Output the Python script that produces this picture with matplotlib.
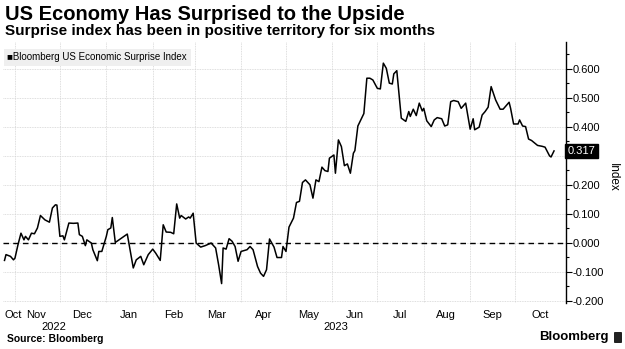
import matplotlib
matplotlib.use("Agg")
import matplotlib.pyplot as plt
import matplotlib.patches as mpatches
import matplotlib.transforms as mtrans
import numpy as np
import pandas as pd

# ---------------- data ----------------
dates = [
    "2022-10-25", "2022-10-26", "2022-10-29", "2022-10-31", "2022-11-01", "2022-11-03",
    "2022-11-05", "2022-11-07", "2022-11-08", "2022-11-10", "2022-11-12", "2022-11-14",
    "2022-11-16", "2022-11-18", "2022-11-21", "2022-11-24", "2022-11-26", "2022-11-28",
    "2022-11-29", "2022-12-01", "2022-12-03", "2022-12-04", "2022-12-07", "2022-12-10",
    "2022-12-13", "2022-12-14", "2022-12-16", "2022-12-18", "2022-12-19", "2022-12-22",
    "2022-12-23", "2022-12-26", "2022-12-27", "2022-12-29", "2023-01-01", "2023-01-02",
    "2023-01-04", "2023-01-05", "2023-01-07", "2023-01-15", "2023-01-19", "2023-01-21",
    "2023-01-24", "2023-01-26", "2023-01-29", "2023-02-01", "2023-02-03", "2023-02-06",
    "2023-02-08", "2023-02-10", "2023-02-13", "2023-02-15", "2023-02-17", "2023-02-19",
    "2023-02-20", "2023-02-23", "2023-02-25", "2023-02-26", "2023-02-28", "2023-03-02",
    "2023-03-05", "2023-03-08", "2023-03-12", "2023-03-15", "2023-03-17", "2023-03-19",
    "2023-03-20", "2023-03-22", "2023-03-24", "2023-03-26", "2023-03-28", "2023-03-30",
    "2023-04-01", "2023-04-05", "2023-04-07", "2023-04-09", "2023-04-12", "2023-04-14",
    "2023-04-16", "2023-04-18", "2023-04-20", "2023-04-23", "2023-04-25", "2023-04-28",
    "2023-04-29", "2023-05-01", "2023-05-03", "2023-05-06", "2023-05-08", "2023-05-10",
    "2023-05-12", "2023-05-14", "2023-05-17", "2023-05-19", "2023-05-21", "2023-05-23",
    "2023-05-25", "2023-05-27", "2023-05-29", "2023-05-30", "2023-06-02", "2023-06-03",
    "2023-06-05", "2023-06-07", "2023-06-09", "2023-06-11", "2023-06-13", "2023-06-15",
    "2023-06-16", "2023-06-18", "2023-06-22", "2023-06-24", "2023-06-26", "2023-06-28",
    "2023-07-01", "2023-07-03", "2023-07-05", "2023-07-07", "2023-07-09", "2023-07-11",
    "2023-07-12", "2023-07-14", "2023-07-16", "2023-07-17", "2023-07-20", "2023-07-22",
    "2023-07-23", "2023-07-25", "2023-07-27", "2023-07-29", "2023-07-31", "2023-08-01",
    "2023-08-03", "2023-08-06", "2023-08-08", "2023-08-10", "2023-08-13", "2023-08-15",
    "2023-08-17", "2023-08-19", "2023-08-21", "2023-08-24", "2023-08-26", "2023-08-29",
    "2023-09-01", "2023-09-03", "2023-09-04", "2023-09-07", "2023-09-09", "2023-09-11",
    "2023-09-13", "2023-09-15", "2023-09-18", "2023-09-21", "2023-09-23", "2023-09-27",
    "2023-09-28", "2023-09-30", "2023-10-03", "2023-10-04", "2023-10-06", "2023-10-08",
    "2023-10-10", "2023-10-12", "2023-10-16", "2023-10-19", "2023-10-21", "2023-10-24",
    "2023-10-25", "2023-10-27",
]
values = [
    -0.061, -0.041, -0.047, -0.059, -0.053, -0.007,
    0.033, 0.010, 0.022, 0.010, 0.033, 0.031,
    0.051, 0.094, 0.079, 0.071, 0.120, 0.131,
    0.130, 0.022, 0.024, 0.010, 0.068, 0.067,
    0.068, 0.028, 0.022, -0.010, 0.010, -0.001,
    -0.024, -0.062, -0.030, -0.030, 0.022, 0.045,
    0.051, 0.087, 0.001, 0.030, -0.087, -0.059,
    -0.047, -0.076, -0.041, -0.022, -0.036, -0.061,
    0.062, 0.037, 0.036, 0.031, 0.134, 0.085,
    0.094, 0.082, 0.089, 0.085, 0.102, -0.001,
    -0.015, -0.010, -0.001, -0.018, -0.076, -0.141,
    -0.018, -0.022, 0.014, 0.005, -0.013, -0.064,
    -0.030, -0.024, -0.013, -0.024, -0.082, -0.105,
    -0.116, -0.093, 0.013, -0.015, -0.051, -0.051,
    -0.013, -0.030, 0.054, 0.085, 0.139, 0.143,
    0.208, 0.217, 0.200, 0.154, 0.217, 0.211,
    0.261, 0.249, 0.246, 0.292, 0.303, 0.240,
    0.355, 0.332, 0.266, 0.272, 0.240, 0.309,
    0.318, 0.403, 0.446, 0.568, 0.568, 0.562,
    0.533, 0.531, 0.620, 0.602, 0.551, 0.548,
    0.583, 0.594, 0.482, 0.430, 0.419, 0.453,
    0.436, 0.461, 0.439, 0.482, 0.455, 0.464,
    0.421, 0.401, 0.424, 0.432, 0.428, 0.403,
    0.407, 0.487, 0.491, 0.487, 0.464, 0.482,
    0.392, 0.428, 0.390, 0.399, 0.441, 0.453,
    0.468, 0.539, 0.493, 0.461, 0.461, 0.485,
    0.464, 0.410, 0.410, 0.424, 0.403, 0.401,
    0.358, 0.353, 0.336, 0.333, 0.330, 0.300,
    0.296, 0.317,
]
series_name = "Bloomberg US Economic Surprise Index"
last_value = 0.317

month_labels = ["Oct", "Nov", "Dec", "Jan", "Feb", "Mar", "Apr", "May", "Jun", "Jul", "Aug", "Sep", "Oct"]
month_label_dates = ["2022-10-31", "2022-11-15", "2022-12-16", "2023-01-16", "2023-02-15",
                     "2023-03-16", "2023-04-16", "2023-05-16", "2023-06-16", "2023-07-16",
                     "2023-08-16", "2023-09-16", "2023-10-18"]
year_labels = ["2022", "2023"]
year_label_dates = ["2022-11-27", "2023-06-03"]
y_ticks = [-0.2, -0.1, 0.0, 0.1, 0.2, 0.3, 0.4, 0.5, 0.6]

title = "US Economy Has Surprised to the Upside"
subtitle = "Surprise index has been in positive territory for six months"
source = "Source: Bloomberg"

# ---------------- figure ----------------
W, H = 625, 349
fig = plt.figure(figsize=(W / 100, H / 100), dpi=100)
FONT = "Liberation Sans"

def fx(px):
    return px / W

def fy(py):
    return 1 - py / H

ax = fig.add_axes([fx(3), fy(303), fx(566) - fx(3), fy(42) - fy(303)])

x = pd.to_datetime(dates)
ax.plot(x, values, color="black", lw=1.1, zorder=3)
ax.axhline(0, color="black", lw=1.0, ls=(0, (4, 3)), zorder=2)

ax.set_xlim(pd.Timestamp("2022-10-24"), pd.Timestamp("2023-11-04"))
ax.set_ylim(-0.208, 0.693)

# grid
month_starts = pd.date_range("2022-11-01", "2023-10-01", freq="MS")
for d in month_starts:
    ax.axvline(d, color="#d4d4d4", lw=0.6, ls=(0, (1, 1)), zorder=1)
for yv in y_ticks:
    ax.axhline(yv, color="#d4d4d4", lw=0.6, ls=(0, (1, 1)), zorder=1)

for s in ["top", "left", "bottom"]:
    ax.spines[s].set_visible(False)
ax.spines["right"].set_color("black")
ax.spines["right"].set_linewidth(1.0)

ax.yaxis.tick_right()
ax.set_yticks(y_ticks)
# the 0.300 label is hidden behind the last-value tag, as in the reference
ax.set_yticklabels(["" if abs(v - 0.3) < 1e-9 else f"{v:.3f}" for v in y_ticks],
                   fontsize=8, family=FONT)
ax.set_yticks(np.arange(-0.15, 0.7, 0.1), minor=True)
ax.tick_params(axis="y", which="major", length=4, width=0.8, pad=1, direction="out")
ax.tick_params(axis="y", which="minor", length=2.5, width=0.8, direction="out")

ax.set_xticks(pd.to_datetime(month_label_dates))
ax.set_xticklabels(month_labels, fontsize=8, family=FONT)
ax.tick_params(axis="x", length=0, pad=5)

trans = mtrans.blended_transform_factory(ax.transData, fig.transFigure)
for lab, d in zip(year_labels, year_label_dates):
    ax.text(pd.Timestamp(d), fy(327), lab, transform=trans, ha="center", va="center",
            fontsize=8, family=FONT)

# y label
fig.text(fx(613), fy(177), "Index", rotation=270, ha="center", va="center",
         fontsize=8.5, family=FONT)

# last value box
ytrans = mtrans.blended_transform_factory(ax.transAxes, ax.transData)
ax.text(1.003, last_value, f"{last_value:.3f}", transform=ytrans, ha="left", va="center",
        fontsize=8, family=FONT, color="white", zorder=5,
        bbox=dict(boxstyle="square,pad=0.2", fc="black", ec="black"))

# legend
fig.patches.append(mpatches.Rectangle((fx(4), fy(66)), fx(191) - fx(4), fy(49) - fy(66),
                                      transform=fig.transFigure, fc="#efefef", ec="none", zorder=0))
fig.text(fx(7), fy(57.5), "\u25a0" + series_name, ha="left", va="center",
         fontsize=7, family=[FONT, "DejaVu Sans"])

# titles
fig.text(fx(5), fy(14), title, ha="left", va="center", fontsize=14.5, fontweight="bold", family=FONT)
fig.text(fx(5), fy(31), subtitle, ha="left", va="center", fontsize=11, fontweight="bold", family=FONT)
fig.text(fx(7), fy(339), source, ha="left", va="center", fontsize=7.5, fontweight="bold", family=FONT)
fig.text(fx(609), fy(337), "Bloomberg", ha="right", va="center", fontsize=9.5, fontweight="bold", family=FONT)
fig.patches.append(mpatches.FancyBboxPatch((fx(614), fy(343)), fx(8), fy(332) - fy(343),
                                           boxstyle="round,pad=0,rounding_size=0.002",
                                           transform=fig.transFigure, fc="#222222", ec="none"))

fig.savefig("out.png", dpi=100)
